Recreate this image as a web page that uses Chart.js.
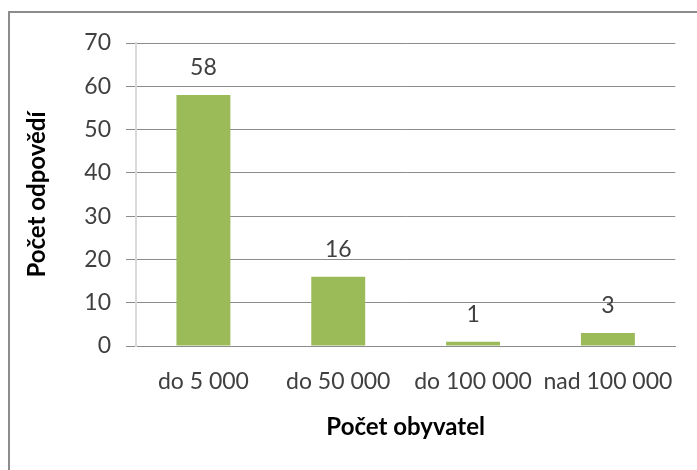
<!DOCTYPE html>
<html>
<head>
<meta charset="utf-8">
<script src="https://cdn.jsdelivr.net/npm/chart.js@4"></script>
<style>
  html, body { margin: 0; padding: 0; background: #fff; overflow: hidden; }
  #frame { position: absolute; left: 8px; top: 11px; width: 720px; height: 480px; border: 2px solid #8c8c8c; box-sizing: border-box; }
  #wrap { position: absolute; left: 0; top: 0; width: 697px; height: 470px; }
</style>
</head>
<body>
<div id="frame"></div>
<div id="wrap"><canvas id="chart" width="697" height="470"></canvas></div>
<script>
  const categories = ['do 5 000', 'do 50 000', 'do 100 000', 'nad 100 000'];
  const answers = [58, 16, 1, 3];
  const yTicks = [0, 10, 20, 30, 40, 50, 60, 70];

  const FONT = 'Lato, "Liberation Sans", sans-serif';
  const TEXT = '#404040';

  // draws the value above each bar
  const valueLabels = {
    id: 'valueLabels',
    afterDatasetsDraw(chart) {
      const ctx = chart.ctx;
      const meta = chart.getDatasetMeta(0);
      ctx.save();
      ctx.fillStyle = TEXT;
      ctx.font = '23px ' + FONT;
      ctx.textAlign = 'center';
      ctx.textBaseline = 'middle';
      meta.data.forEach((bar, i) => {
        ctx.fillText(answers[i], bar.x, bar.y - 27);
      });
      ctx.restore();
    }
  };

  new Chart(document.getElementById('chart'), {
    type: 'bar',
    data: {
      labels: categories,
      datasets: [{
        data: answers,
        backgroundColor: '#9bbb59',
        barPercentage: 0.4,
        categoryPercentage: 1
      }]
    },
    options: {
      responsive: false,
      animation: false,
      layout: { padding: { left: 20, right: 21, top: 43, bottom: 0 } },
      plugins: { legend: { display: false }, tooltip: { enabled: false } },
      scales: {
        x: {
          grid: { display: false, drawTicks: false },
          border: { display: true, color: '#8c8c8c', width: 1 },
          ticks: { color: TEXT, font: { family: FONT, size: 23 }, padding: 22, maxRotation: 0, autoSkip: false },
          title: { display: true, text: 'Počet obyvatel', color: '#000', font: { family: FONT, size: 24, weight: 'bold' }, padding: { top: 0, bottom: 28 } },
          afterFit: s => { s.height = 124; }
        },
        y: {
          min: 0,
          max: 70,
          afterBuildTicks: s => { s.ticks = yTicks.map(v => ({ value: v })); },
          grid: { color: '#8c8c8c', tickLength: 10, lineWidth: 1 },
          border: { display: true, color: '#d9d9d9', width: 2 },
          ticks: { color: TEXT, font: { family: FONT, size: 23 }, padding: 15 },
          title: { display: true, text: 'Počet odpovědí', color: '#000', font: { family: FONT, size: 24, weight: 'bold' }, padding: { top: 3, bottom: 0 } },
          afterFit: s => { s.width = 116; }
        }
      }
    },
    plugins: [valueLabels]
  });
</script>
</body>
</html>
